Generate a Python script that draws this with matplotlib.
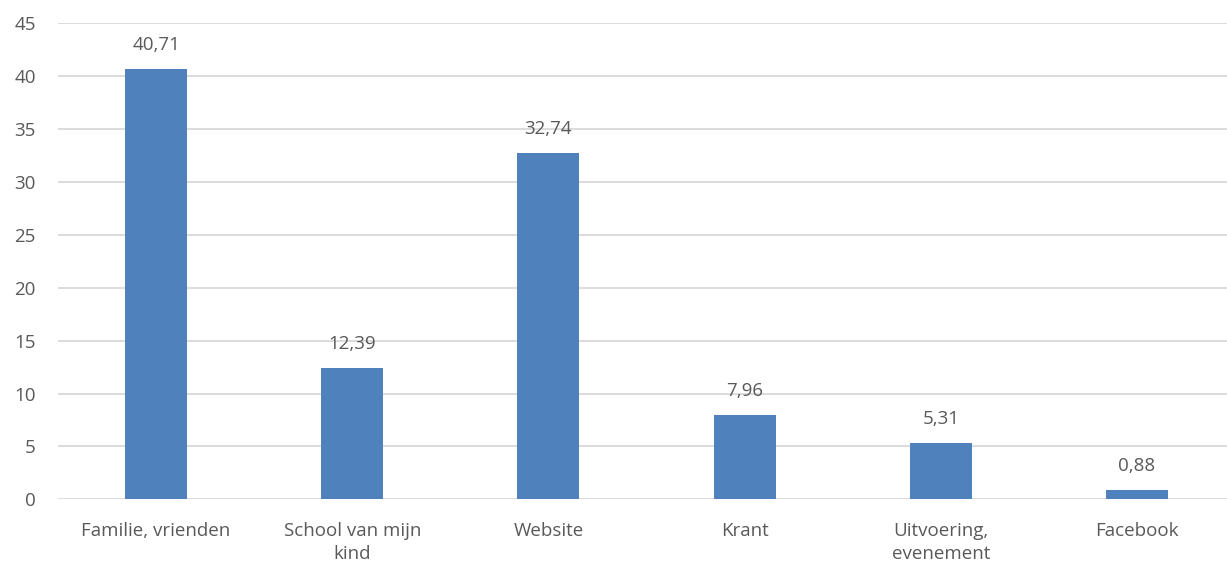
import matplotlib.pyplot as plt

# Gegevens
categorieen = ['Familie, vrienden', 'School van mijn\nkind', 'Website', 'Krant',
               'Uitvoering,\nevenement', 'Facebook']
waarden = [40.71, 12.39, 32.74, 7.96, 5.31, 0.88]
yticks = [0, 5, 10, 15, 20, 25, 30, 35, 40, 45]

plt.rcParams['font.family'] = ['Open Sans', 'DejaVu Sans']
tekst = '#595959'
fs = 13.5

fig = plt.figure(figsize=(12.27, 5.66), dpi=100)
ax = fig.add_axes([58 / 1227, 1 - 499.3 / 566, 1177 / 1227, 476 / 566])

x = range(len(waarden))
bars = ax.bar(x, waarden, width=0.316, color='#4f81bd', zorder=3)

# labels boven de staven
for b, v in zip(bars, waarden):
    ax.text(b.get_x() + b.get_width() / 2, v + 1.8, f'{v:.2f}'.replace('.', ','),
            ha='center', va='baseline', fontsize=fs, color=tekst)

ax.set_xlim(-0.5, len(waarden) - 0.5)
ax.set_ylim(0, 45)
ax.set_yticks(yticks)
ax.set_xticks(list(x))
ax.set_xticklabels(categorieen, fontsize=fs, color=tekst, linespacing=1.4)
ax.tick_params(axis='y', labelsize=fs, labelcolor=tekst, length=0, pad=16)
ax.tick_params(axis='x', length=0, pad=16)
ax.grid(axis='y', color='#d9d9d9', linewidth=1.3, zorder=0)
for s in ax.spines.values():
    s.set_visible(False)

fig.savefig('out.png', dpi=100)
